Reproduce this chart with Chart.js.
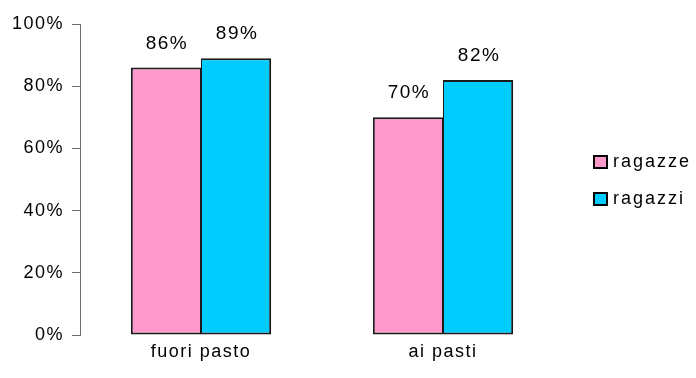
<!DOCTYPE html>
<html>
<head>
<meta charset="utf-8">
<script src="https://cdn.jsdelivr.net/npm/chart.js@4/dist/chart.umd.min.js"></script>
<style>
  html, body { margin: 0; padding: 0; background: #ffffff; }
  #wrap { width: 696px; height: 378px; position: relative; }
</style>
</head>
<body>
<div id="wrap"><canvas id="c" width="696" height="378"></canvas></div>
<script>
const categories = ['fuori pasto', 'ai pasti'];
const seriesNames = ['ragazze', 'ragazzi'];
const ragazze = [86, 70];
const ragazzi = [89, 82];
const yTicks = [0, 20, 40, 60, 80, 100];

const FONT = '"Liberation Sans", Arial, sans-serif';
const SPACING = '1.5px';

// slightly spaced-out lettering for the axis text
const wideText = {
  id: 'wideText',
  beforeLayout(chart) { chart.ctx.letterSpacing = SPACING; },
  beforeDraw(chart) { chart.ctx.letterSpacing = SPACING; }
};

// value labels above each bar
const valueLabels = {
  id: 'valueLabels',
  afterDatasetsDraw(chart) {
    const ctx = chart.ctx;
    ctx.save();
    ctx.letterSpacing = SPACING;
    ctx.font = '19px ' + FONT;
    ctx.fillStyle = '#000';
    ctx.textAlign = 'center';
    ctx.textBaseline = 'alphabetic';
    chart.data.datasets.forEach((ds, di) => {
      chart.getDatasetMeta(di).data.forEach((bar, i) => {
        ctx.fillText(ds.data[i] + '%', bar.x + 1, bar.y - 19);
      });
    });
    ctx.restore();
  }
};

// legend on the right, square swatches with dark outline
const sideLegend = {
  id: 'sideLegend',
  afterDraw(chart) {
    const ctx = chart.ctx;
    ctx.save();
    ctx.letterSpacing = '2px';
    ctx.font = '18px ' + FONT;
    ctx.textBaseline = 'middle';
    ctx.textAlign = 'left';
    const x = 594, rows = [162, 199];
    chart.data.datasets.forEach((ds, i) => {
      const y = rows[i];
      ctx.fillStyle = ds.backgroundColor;
      ctx.fillRect(x, y - 6, 13, 12);
      ctx.strokeStyle = '#000';
      ctx.lineWidth = 2;
      ctx.strokeRect(x, y - 6, 13, 12);
      ctx.fillStyle = '#000';
      ctx.fillText(ds.label, x + 19, y);
    });
    ctx.restore();
  }
};

new Chart(document.getElementById('c'), {
  type: 'bar',
  data: {
    labels: categories,
    datasets: [
      { label: seriesNames[0], data: ragazze, backgroundColor: '#FF99CC', borderColor: '#1a1a1a',
        borderWidth: { top: 2, left: 2, right: 1, bottom: 2 }, borderSkipped: false },
      { label: seriesNames[1], data: ragazzi, backgroundColor: '#00CCFF', borderColor: '#1a1a1a',
        borderWidth: { top: 2, left: 1, right: 2, bottom: 2 }, borderSkipped: false }
    ]
  },
  options: {
    responsive: false,
    animation: false,
    devicePixelRatio: 1,
    layout: { padding: { left: 0, right: 132, top: 24, bottom: 0 } },
    plugins: { legend: { display: false }, tooltip: { enabled: false } },
    datasets: { bar: { categoryPercentage: 0.58, barPercentage: 1.0 } },
    scales: {
      x: {
        grid: { display: false, drawTicks: false },
        border: { display: false },
        ticks: { color: '#000', font: { family: FONT, size: 18 }, padding: 6 },
        afterFit(s) { s.height = 43; }
      },
      y: {
        min: 0, max: 100,
        afterBuildTicks(s) { s.ticks = yTicks.map(v => ({ value: v })); },
        grid: { drawOnChartArea: false, drawTicks: true, tickLength: 8, color: '#6e6e6e', lineWidth: 1 },
        border: { display: true, color: '#6e6e6e', width: 1 },
        ticks: { color: '#000', font: { family: FONT, size: 18 }, padding: 8, callback: v => v + '%' },
        afterFit(s) { s.width = 80; }
      }
    }
  },
  plugins: [wideText, valueLabels, sideLegend]
});
</script>
</body>
</html>
